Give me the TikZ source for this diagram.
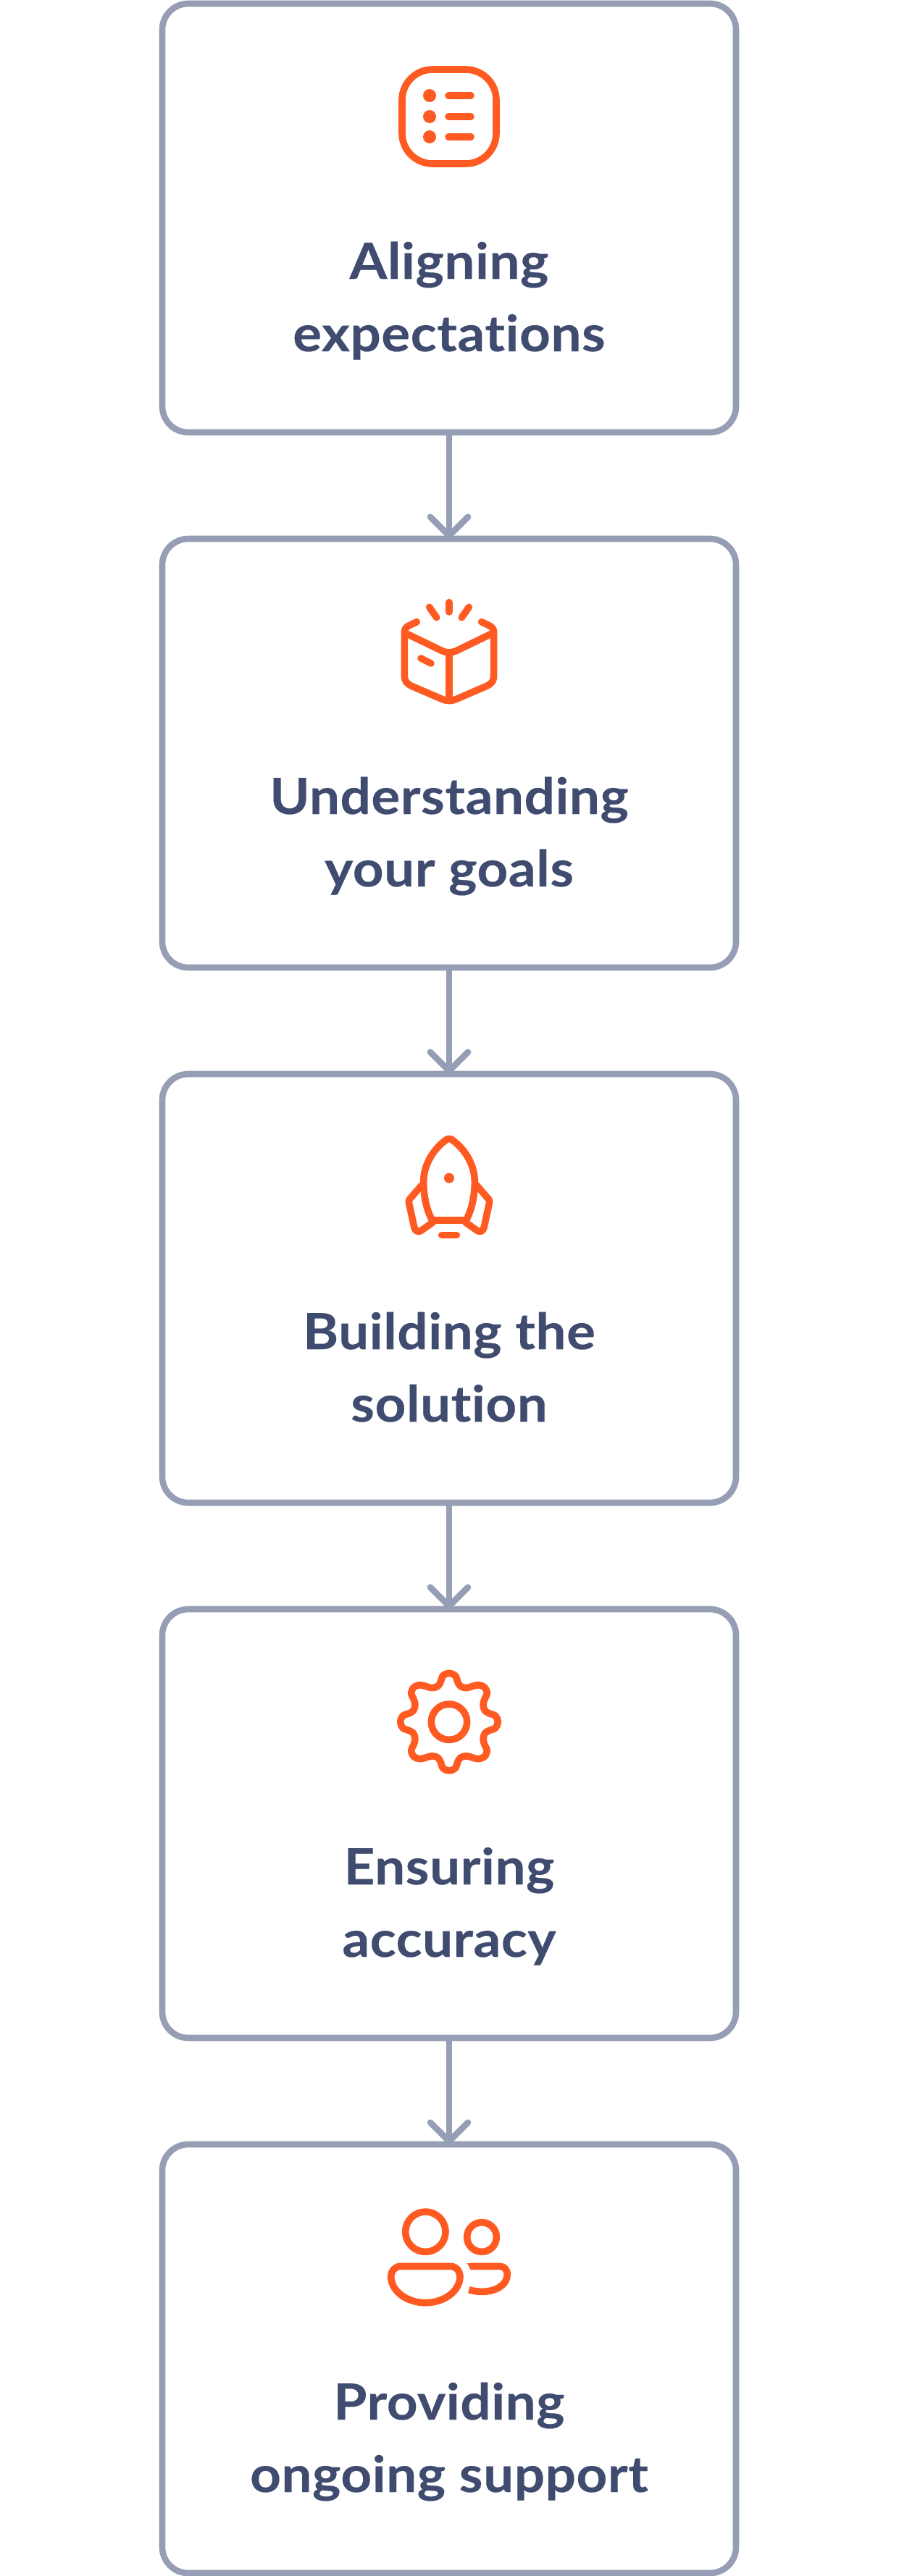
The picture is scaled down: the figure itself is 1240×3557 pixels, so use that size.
\documentclass[tikz,border=0pt]{standalone}
\usepackage{fontspec}
\setmainfont[FakeStretch=1.08,LetterSpace=0.8,Ligatures=NoCommon,FakeBold=0.25]{Lato}
\usetikzlibrary{arrows.meta}
\definecolor{edgec}{HTML}{969EB5}
\definecolor{inkc}{HTML}{3F4B6F}
\definecolor{iconc}{HTML}{FF5A21}
\tikzset{
  stepbox/.style={draw=edgec,line width=8.6pt,rounded corners=36pt,minimum width=792pt,minimum height=592pt,outer sep=0pt,inner sep=0pt,fill=white},
  steptext/.style={font=\fontsize{69}{100}\selectfont\bfseries,text=inkc,align=center,anchor=base,inner sep=0pt,outer sep=0pt},
  flow/.style={draw=edgec,line width=8.6pt,-{Straight Barb[length=26pt,width=52pt,line width=8.6pt,round]}},
  iconline/.style={draw=iconc,line width=9.6pt,line cap=round,line join=round},
  icon/.style={shift={#1},x=0.33333pt,y=-0.33333pt}
}
\begin{document}
\begin{tikzpicture}[x=1pt,y=-1pt]
\useasboundingbox (0,0) rectangle (1240,3557);
\fill[white] (0,0) rectangle (1240,3557);
\node[stepbox] (b1) at (620,301) {};
\node[stepbox] (b2) at (620,1040) {};
\node[stepbox] (b3) at (620,1779) {};
\node[stepbox] (b4) at (620,2518) {};
\node[stepbox] (b5) at (620,3257) {};
\draw[flow] (b1.south) -- (b2.north);
\draw[flow] (b2.south) -- (b3.north);
\draw[flow] (b3.south) -- (b4.north);
\draw[flow] (b4.south) -- (b5.north);
\node[steptext] (t1) at (620,485) {Aligning\\expectations};
\node[steptext] (t2) at (620,1224) {Understanding\\your goals};
\node[steptext] (t3) at (620,1963) {Building the\\solution};
\node[steptext] (t4) at (620,2702) {Ensuring\\accuracy};
\node[steptext] (t5) at (620,3441) {Providing\\ongoing support};
% icon 1: list
\draw[iconline,rounded corners=42pt] (555,96) rectangle (685,226);
\foreach \yy in {132,161,189}{
  \fill[iconc] (593,\yy) circle[radius=9];
  \draw[iconline] (619,\yy) -- (650,\yy);
}
% icon 2: box
\begin{scope}[icon={(500,780)}]
\draw[iconline] (360,155) -- (360,195);
\draw[iconline] (278,175) -- (308,218);
\draw[iconline] (442,175) -- (412,218);
\draw[iconline] (226,236) -- (195,251) .. controls (182,257) and (175,265) .. (175,280) -- (175,460) .. controls (175,480) and (185,493) .. (205,502) -- (330,556) .. controls (350,565) and (370,565) .. (390,556) -- (515,502) .. controls (535,493) and (545,480) .. (545,460) -- (545,280) .. controls (545,265) and (538,257) .. (525,251) -- (494,236);
\draw[iconline] (180,283) -- (330,356) .. controls (350,365) and (370,365) .. (390,356) -- (540,283);
\draw[iconline] (360,364) -- (360,562);
\draw[iconline] (243,387) -- (285,408);
\end{scope}
% icon 3: rocket
\begin{scope}[icon={(500,1520)}]
\draw[iconline] (290,495) .. controls (265,450) and (254,390) .. (254,335) .. controls (254,260) and (300,195) .. (350,160) .. controls (357,156) and (363,156) .. (370,160) .. controls (420,195) and (466,260) .. (466,335) .. controls (466,390) and (455,450) .. (430,495) -- cycle;
\draw[iconline] (246,350) -- (197,407) .. controls (193,412) and (192,416) .. (193,421) -- (216,526) .. controls (219,540) and (233,546) .. (245,537) -- (293,503);
\draw[iconline] (474,350) -- (523,407) .. controls (527,412) and (528,416) .. (527,421) -- (504,526) .. controls (501,540) and (487,546) .. (475,537) -- (427,503);
\fill[iconc] (360,320) circle[radius=21];
\draw[iconline] (329,556) -- (391,556);
\end{scope}
% icon 4: gear
\begin{scope}[icon={(500,2280)}]
\draw[iconline] (360,293) circle[radius=74];
\begin{scope}[shift={(360,293)}]
\draw[iconline] plot[smooth cycle,tension=0.6] coordinates {
(0,-202)(-25,-192)(-35,-167)(-47,-148)(-72,-141)(-97,-148)(-122,-153)(-147,-143)(-157,-118)(-148,-97)(-141,-72)(-148,-47)(-167,-35)(-192,-25)
(-202,0)(-192,25)(-167,35)(-148,47)(-141,72)(-148,97)(-157,118)(-147,143)(-122,153)(-97,148)(-72,141)(-47,148)(-35,167)(-25,192)
(0,202)(25,192)(35,167)(47,148)(72,141)(97,148)(122,153)(147,143)(157,118)(148,97)(141,72)(148,47)(167,35)(192,25)
(202,0)(192,-25)(167,-35)(148,-47)(141,-72)(148,-97)(157,-118)(147,-143)(122,-153)(97,-148)(72,-141)(47,-148)(35,-167)(25,-192)};
\end{scope}
\end{scope}
% icon 5: people
\begin{scope}[icon={(500,3020)}]
\draw[iconline] (262,185) circle[radius=83];
\draw[iconline] (495,207) circle[radius=61];
\draw[iconline] (160,328) -- (365,328) .. controls (390,328) and (405,348) .. (405,370) .. controls (405,430) and (340,479) .. (262,479) .. controls (184,479) and (119,430) .. (119,370) .. controls (119,348) and (135,328) .. (160,328) -- cycle;
\draw[iconline,line cap=butt] (448,328) -- (570,328) .. controls (590,328) and (601,345) .. (601,360) .. controls (601,405) and (555,433) .. (495,433) .. controls (475,433) and (458,430) .. (442,425);
\fill[iconc] (435,315) -- (450,315) -- (450,341) -- (448,341) -- cycle;
\end{scope}
\end{tikzpicture}
\end{document}
